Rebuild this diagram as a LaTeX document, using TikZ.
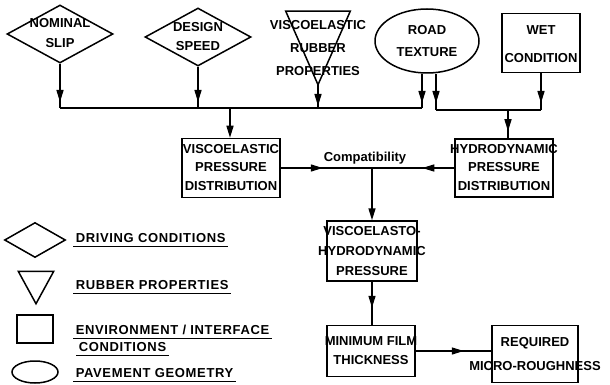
\documentclass[tikz,border=0pt]{standalone}
\usepackage{fontspec}
\setmainfont{Liberation Sans}
\usetikzlibrary{shapes.geometric}
\usetikzlibrary{arrows.meta}
\usetikzlibrary{decorations.markings}
\usetikzlibrary{positioning}

\newcommand{\boxlines}[2][19]{\makebox[0pt]{\fontsize{13}{#1}\selectfont
  \begin{tabular}{@{}c@{}}#2\end{tabular}}}

\begin{document}
\begin{tikzpicture}[x=1pt, y=-1pt, line width=1.5pt,
    feed/.style={postaction={decorate}, decoration={markings,
      mark=at position #1 with {\arrow{Triangle[length=12pt,width=7pt]}}}},
    arrowin/.style={-{Triangle[length=12pt,width=7pt]}},
    every node/.style={font=\bfseries\fontsize{13}{19}\selectfont, inner sep=0pt},
    drivebox/.style={diamond, draw},
    rubberbox/.style={rectangle},
    envbox/.style={rectangle, draw},
    pavebox/.style={ellipse, draw},
    legend/.style={anchor=west, inner xsep=2pt, inner ysep=3pt, text depth=0pt,
      font=\bfseries\fontsize{13}{15}\selectfont\addfontfeature{LetterSpace=5}}
  ]
  \useasboundingbox (0,0) rectangle (610,385);

  % inputs
  \node[drivebox, minimum width=106, minimum height=58] (slip) at (60,34) {\boxlines[20]{NOMINAL\\SLIP}};
  \node[drivebox, minimum width=106, minimum height=58] (speed) at (198,37) {\boxlines{DESIGN\\SPEED}};
  \node[rubberbox, minimum width=63, minimum height=72] (rubber) at (318,48) {\boxlines[23]{VISCOELASTIC\\RUBBER\\PROPERTIES}};
  \draw (rubber.north west) -- (rubber.north east) -- (rubber.south) -- cycle;
  \node[pavebox, minimum width=104, minimum height=64] (road) at (427,41) {\boxlines[22]{ROAD\\TEXTURE}};
  \node[envbox, minimum width=78, minimum height=59] (wet) at (541,43) {\boxlines[28]{WET\\CONDITION}};

  % pressures
  \node[envbox, minimum width=98, minimum height=59] (visco) at (231,168) {\boxlines[18.5]{VISCOELASTIC\\PRESSURE\\DISTRIBUTION}};
  \node[envbox, minimum width=98, minimum height=58] (hydro) at (504,168) {\boxlines[18.5]{HYDRODYNAMIC\\PRESSURE\\DISTRIBUTION}};
  \coordinate (compat) at (372,168);
  \node[font=\bfseries\fontsize{13}{15}\selectfont] (compatlabel) at (365,158) {Compatibility};
  \node[envbox, minimum width=90, minimum height=56] (vhp) at (372,251) {\boxlines[20]{VISCOELASTO-\\HYDRODYNAMIC\\PRESSURE}};
  \node[envbox, minimum width=88, minimum height=51] (film) at (371,351) {\boxlines{MINIMUM FILM\\THICKNESS}};
  \node[envbox, minimum width=86, minimum height=57] (req) at (535,354) {\boxlines[24]{REQUIRED\\MICRO-ROUGHNESS}};

  % collecting lines
  \coordinate (leftbus) at (230,108);
  \coordinate (rightbus) at (508,110);
  \draw[feed=-6pt] (slip.south) -- (slip.south |- leftbus);
  \draw[feed=-6pt] (speed.south) -- (speed.south |- leftbus);
  \draw[feed=-2pt] (rubber.south) -- (rubber.south |- leftbus);
  \draw[feed=-5pt] ([xshift=-5pt]road.south) -- ([xshift=-5pt]road.south |- leftbus);
  \draw (slip.south |- leftbus) -- ([xshift=-5pt]road.south |- leftbus);
  \draw[arrowin] (leftbus) -- (leftbus |- visco.north);

  \draw[feed=-7pt] ([xshift=9pt]road.south) -- ([xshift=9pt]road.south |- rightbus);
  \draw[feed=-7pt] (wet.south) -- (wet.south |- rightbus);
  \draw ([xshift=9pt]road.south |- rightbus) -- (wet.south |- rightbus);
  \draw[feed=-7pt] (rightbus) -- (rightbus |- hydro.north);

  \draw[feed=42pt] (visco.east) -- (compat);
  \draw[feed=32pt] (hydro.west) -- (compat);
  \draw[arrowin] (compat) -- (compat |- vhp.north);
  \draw[feed=-17pt] (vhp.south) -- (vhp.south |- film.north);
  \draw[feed=48pt] (film.east) -- (film.east -| req.west);

  % key
  \node[drivebox, minimum width=61, minimum height=35] (keydrive) at (35,240) {};
  \node[rubberbox, minimum width=34, minimum height=31] (keyrubber) at (36,287.5) {};
  \draw (keyrubber.north west) -- (keyrubber.north east) -- (keyrubber.south) -- cycle;
  \node[envbox, minimum width=36, minimum height=28] (keyenv) at (35,329) {};
  \node[pavebox, minimum width=46, minimum height=22] (keypave) at (35,372) {};

  \node[legend] (lgdrive) at (73,238) {DRIVING CONDITIONS};
  \node[legend] (lgrubber) at (73,285) {RUBBER PROPERTIES};
  \node[legend] (lgenv) at (73,330) {ENVIRONMENT / INTERFACE};
  \node[legend] (lgcond) at (76,347) {CONDITIONS};
  \node[legend] (lgpave) at (73,373) {PAVEMENT GEOMETRY};
  \draw (lgdrive.south west) -- (lgdrive.south east);
  \draw (lgrubber.south west) -- (lgrubber.south east);
  \draw (lgenv.south west) -- (lgenv.south east);
  \draw (lgcond.south west) -- (lgcond.south east);
  \draw (lgpave.south west) -- (lgpave.south east);
\end{tikzpicture}
\end{document}
